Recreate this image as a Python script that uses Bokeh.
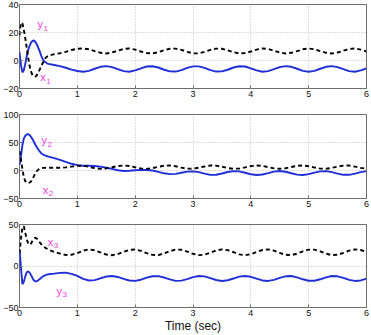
from bokeh.plotting import figure
from bokeh.layouts import column
from bokeh.models import Range1d, FixedTicker
from bokeh.core.properties import value
from bokeh.embed import file_html
from bokeh.resources import INLINE

# time samples (s)
T = [0, 0.025, 0.05, 0.075, 0.1, 0.125, 0.15, 0.175, 0.2, 0.225, 0.25, 0.275, 0.3,
     0.325, 0.35, 0.375, 0.4, 0.425, 0.45, 0.475, 0.5,
     0.6, 0.7, 0.8, 0.9, 1.0,
     1.1, 1.2, 1.3, 1.4, 1.5, 1.6, 1.7, 1.8, 1.9, 2.0,
     2.1, 2.2, 2.3, 2.4, 2.5, 2.6, 2.7, 2.8, 2.9, 3.0,
     3.1, 3.2, 3.3, 3.4, 3.5, 3.6, 3.7, 3.8, 3.9, 4.0,
     4.1, 4.2, 4.3, 4.4, 4.5, 4.6, 4.7, 4.8, 4.9, 5.0,
     5.1, 5.2, 5.3, 5.4, 5.5, 5.6, 5.7, 5.8, 5.9, 6.0]

X1 = [18, 27, 26.5, 22, 16, 9, 2, -4, -8, -10.5, -11.5, -11.5, -10.5, -8.5, -6.5, -4, -2, 0, 1.8, 2.8, 3.4,
      4.5, 5.2, 6.2, 7.5, 8.4,
      8.6, 8.0, 6.7, 5.5, 5.0, 5.7, 7.0, 8.2, 8.6, 7.8,
      6.4, 5.3, 5.1, 5.9, 7.3, 8.4, 8.5, 7.6, 6.2, 5.1,
      5.1, 6.2, 7.6, 8.5, 8.4, 7.3, 5.9, 5.1, 5.3, 6.4,
      7.8, 8.6, 8.2, 7.0, 5.7, 5.0, 5.5, 6.7, 8.0, 8.6,
      8.0, 6.7, 5.5, 5.0, 5.7, 7.0, 8.2, 8.6, 7.8, 6.4]
Y1 = [6, -3, -8.5, -7, -2.4, 3, 7.5, 10.5, 12.8, 14, 14.3, 13.2, 11.5, 9, 6.5, 3.5, 1.2, -0.5, -1.3, -2, -2.4,
      -3.2, -4.0, -5.2, -6.5, -7.5,
      -8, -7.4, -5.9, -4.5, -4, -4.7, -6.2, -7.6, -8, -7.1,
      -5.6, -4.3, -4.1, -5, -6.6, -7.8, -7.9, -6.9, -5.3, -4.2,
      -4.2, -5.3, -6.9, -7.9, -7.8, -6.6, -5, -4.1, -4.3, -5.6,
      -7.1, -8, -7.6, -6.2, -4.7, -4, -4.5, -5.9, -7.4, -8,
      -7.4, -5.9, -4.5, -4, -4.7, -6.2, -7.6, -8, -7.1, -5.6]

X2 = [35, 20, 3, -12, -19, -22, -22.5, -21.5, -19.5, -15, -10, -5, -1, 1.5, 3, 4, 4.5, 4.7, 4.8, 4.8, 4.8,
      4.8, 4.9, 5.5, 7, 8.5,
      8.5, 6.5, 4.2, 3.0, 3.7, 5.8, 8.0, 9.0, 8.0, 5.8,
      3.7, 3.0, 4.2, 6.5, 8.5, 8.9, 7.5, 5.1, 3.3, 3.2,
      4.9, 7.2, 8.9, 8.6, 6.8, 4.4, 3.1, 3.5, 5.6, 7.9,
      9.0, 8.2, 6.1, 3.8, 3.0, 4.0, 6.3, 8.4, 9.0, 7.7,
      5.3, 3.4, 3.1, 4.7, 7.0, 8.8, 8.8, 7.0, 4.7, 3.1]
Y2 = [10, 25, 45, 57, 62, 64.5, 65, 63, 60, 56, 51, 46, 41.5, 37.5, 34, 31, 29, 27.5, 26.5, 25.5, 24.8,
      22, 19, 15.5, 12, 9.5,
      8.5, 8.5, 8, 7, 5, 3, 0.5, -1, -0.5, 0.5,
      1, 1, 0, -2.5, -5, -6.5, -6, -4, -2, -1.5,
      -3, -5.5, -7.8, -7.6, -5.4, -2.7, -1.1, -1.6, -4.0, -6.7,
      -8.0, -7.1, -4.6, -2.0, -1.0, -2.2, -4.9, -7.3, -8.0, -6.5,
      -3.7, -1.5, -1.1, -2.9, -5.7, -7.7, -7.7, -5.7, -2.9, -1.1]

X3 = [15, 33, 46, 48, 40, 32, 27.5, 25.5, 27, 30.5, 33, 34, 33, 31, 28.5, 26.5, 24.5, 23, 21.8, 20.8, 19.8,
      17, 15, 13.3, 13.6, 15.5,
      18.5, 20, 18.9, 16.3, 13.8, 13.0, 14.4, 17.1, 19.4, 19.9,
      18.2, 15.5, 13.4, 13.2, 15.2, 17.9, 19.8, 19.6, 17.4, 14.7,
      13.1, 13.6, 16.0, 18.7, 20.0, 19.1, 16.6, 14.0, 13.0, 14.2,
      16.9, 19.3, 20.0, 18.5, 15.7, 13.5, 13.1, 14.9, 17.7, 19.7,
      19.7, 17.7, 14.9, 13.1, 13.5, 15.7, 18.5, 20.0, 19.3, 16.9]
Y3 = [20, -2, -22, -19, -12.5, -7.5, -6.5, -8, -11, -14.5, -17.5, -18.6, -18.3, -17.2, -15.8, -14.2, -12.8,
      -11.8, -11, -10.4, -10,
      -9.2, -8.3, -8.0, -9.5, -12,
      -15.5, -17.5, -17.0, -14.8, -12.7, -12.0, -13.2, -15.5, -17.5, -17.9,
      -16.5, -14.1, -12.3, -12.2, -13.9, -16.2, -17.9, -17.6, -15.8, -13.4,
      -12.1, -12.5, -14.6, -16.9, -18.0, -17.2, -15.1, -12.8, -12.0, -13.0,
      -15.3, -17.4, -18.0, -16.7, -14.3, -12.4, -12.1, -13.7, -16.0, -17.8,
      -17.8, -16.0, -13.7, -12.1, -12.4, -14.3, -16.7, -18.0, -17.4, -15.3]

XTICKS = [0, 1, 2, 3, 4, 5, 6]
YTICKS1 = [-20, 0, 20, 40]
YTICKS2 = [-50, 0, 50, 100]
YTICKS3 = [-50, 0, 50]
XLABEL = "Time (sec)"

FONT = "Liberation Sans"
BLUE = "#1f2fd8"
MAGENTA = "#ec3ee0"


def panel(ylim, yticks, blue, black, labels, last):
    p = figure(width=371, height=115 if last else 110,
               x_range=Range1d(0, 6), y_range=Range1d(*ylim),
               output_backend="svg", toolbar_location=None,
               min_border_left=17, min_border_right=5, min_border_top=4,
               min_border_bottom=27 if last else 22)
    p.background_fill_color = "white"
    p.border_fill_color = "white"
    p.outline_line_color = "#6e6e6e"
    p.outline_line_width = 1

    p.line(T, blue, color=BLUE, line_width=1.9)
    p.line(T, black, color="black", line_width=1.9, line_dash="4 3")

    for ax in (p.xaxis[0], p.yaxis[0]):
        ax.axis_line_color = None
        ax.major_tick_in = 3
        ax.major_tick_out = 0
        ax.minor_tick_line_color = None
        ax.major_tick_line_color = "#6e6e6e"
        ax.major_label_text_font = FONT
        ax.major_label_text_font_size = "9px"
        ax.major_label_text_color = "#111111"
        ax.major_label_standoff = 2
    p.yaxis.major_label_standoff = 1
    p.xaxis.ticker = FixedTicker(ticks=XTICKS)
    p.yaxis.ticker = FixedTicker(ticks=yticks)
    p.grid.grid_line_color = "#bdbdbd"
    p.grid.grid_line_dash = "1 2"
    p.grid.grid_line_width = 1

    for letter, sub, lx, ly in labels:
        p.text(x=[lx], y=[ly], text=[letter], text_color=MAGENTA,
               text_font=value(FONT), text_font_size="11px",
               text_align="left", text_baseline="middle")
        p.text(x=[lx], y=[ly], text=[sub], text_color=MAGENTA,
               text_font=value(FONT), text_font_size="8px",
               text_align="left", text_baseline="middle",
               x_offset=6, y_offset=4)

    if last:
        p.xaxis.axis_label = XLABEL
        p.xaxis.axis_label_text_font = FONT
        p.xaxis.axis_label_text_font_style = "normal"
        p.xaxis.axis_label_text_font_size = "12px"
        p.xaxis.axis_label_text_color = "#111111"
        p.xaxis.axis_label_standoff = 0
    return p


p1 = panel((-20, 40), YTICKS1, Y1, X1, [("y", "1", 0.31, 26), ("x", "1", 0.36, -12)], False)
p2 = panel((-50, 100), YTICKS2, Y2, X2, [("y", "2", 0.38, 54), ("x", "2", 0.40, -34)], False)
p3 = panel((-50, 50), YTICKS3, Y3, X3, [("x", "3", 0.49, 29), ("y", "3", 0.64, -30)], True)

layout = column(p1, p2, p3, spacing=0)
open("out.html", "w").write(file_html(layout, INLINE))
